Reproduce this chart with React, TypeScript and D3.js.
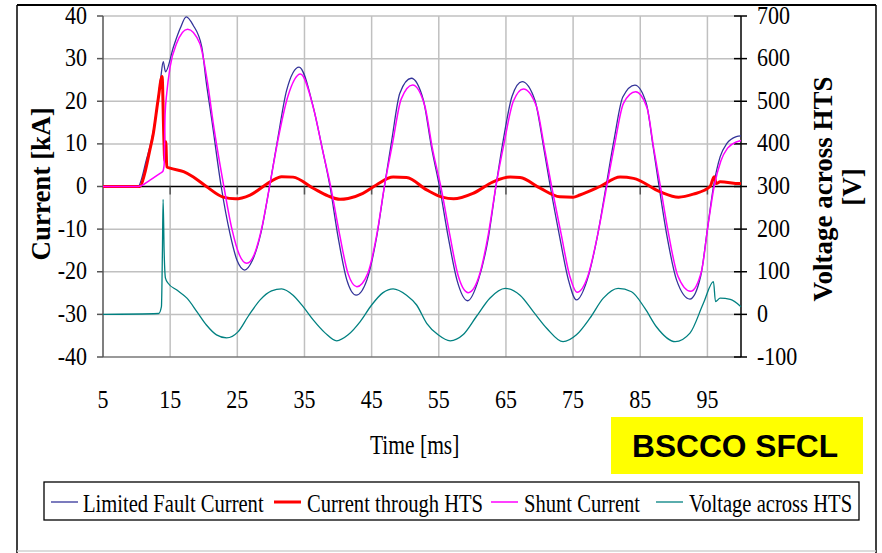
import React from "react";
import * as d3 from "d3";

// time [ms] / value pairs
const faultCurrent: [number, number][] = [
  [5, 0], [10.2, 0], [11.5, 6.5], [12.5, 13], [13.2, 20.5], [13.6, 25.5], [13.97, 29.3], [14.3, 26.9],
  [15.5, 32.8], [16.5, 37.1], [17.4, 39.8], [18.4, 37.9], [19.7, 32.8], [20.4, 24.2], [21.2, 15.6],
  [22.6, 0], [23.9, -11], [25.0, -17.5], [26.1, -19.6], [27.2, -17.5], [28.5, -11], [29.8, 0],
  [31.0, 11], [32.35, 22.6], [34.2, 28.0], [36.3, 18.7], [37.6, 9.3], [38.8, 0], [40.0, -11.8],
  [41.3, -21.9], [42.7, -25.5], [44.3, -21.9], [45.75, -11.8], [46.9, 0], [48.0, 10.9], [49.2, 21.9],
  [50.9, 25.4], [52.7, 20.3], [53.9, 9.3], [55.1, 0], [56.4, -11.8], [57.7, -21.9], [59.3, -26.8],
  [60.9, -21.9], [62.4, -11.8], [63.5, 0], [64.6, 10.9], [65.9, 21.1], [67.4, 24.6], [69.3, 20.3],
  [70.6, 9.3], [71.6, 0], [73.0, -11.8], [74.3, -21.9], [75.5, -26.6], [77.1, -21.9], [78.6, -11.8],
  [79.9, 0], [81.1, 11], [82.4, 21], [84.2, 23.8], [85.9, 19.5], [86.9, 9.5], [87.8, 0], [89.0, -11.8],
  [90.4, -21.9], [92.4, -26.4], [94.0, -21], [95.0, -10], [95.9, 0], [96.9, 7.0], [97.9, 10.1],
  [99.3, 11.7], [100, 11.9],
];

const htsCurrent: [number, number][] = [
  [5, 0], [10.5, 0], [11.2, 3], [11.9, 8], [12.5, 12.5], [13.2, 20.3], [13.8, 25.8], [14.05, 12], [14.2, 6],
  [14.35, 10.5], [14.5, 4.6], [15, 4.3], [17, 3.5], [18.4, 2.3], [20.4, 0], [22.9, -2.5], [24.7, -2.9],
  [26.9, -2.0], [29.9, 1.1], [31.6, 2.3], [33.3, 2.2], [36.3, -0.4], [38.5, -2.2], [40.3, -3.0],
  [41.5, -2.8], [43.7, -1.6], [45.7, 0.35], [48.2, 2.2], [50.2, 2.1], [53.2, -0.8], [55.5, -2.5],
  [57.2, -2.9], [60.1, -1.6], [63.1, 1.1], [65.6, 2.2], [67.1, 2.1], [70.1, -0.4], [73, -2.4],
  [75, -2.5], [76, -2.0], [79, 0], [82, 2.2], [84, 1.9], [87.9, -1.2], [90.7, -2.5], [92.9, -1.8],
  [95.4, 0], [96.0, 2.3], [96.3, 0.7], [96.9, 1.1], [99.8, 0.7], [100, 0.7],
];

const shuntCurrent: [number, number][] = [
  [5, 0], [10.2, 0], [12, 1.5], [13.5, 3.1], [13.9, 3.5], [14.1, 5], [14.25, 17], [14.5, 22],
  [15.0, 28.1], [15.97, 33.6], [17.6, 36.9], [19.4, 33.6], [20.6, 24], [21.4, 15], [23.0, 0],
  [24.2, -10], [25.3, -16], [26.4, -18], [27.5, -16], [28.6, -10], [29.8, 0], [31.0, 10.5],
  [32.5, 21], [34.4, 26.4], [36.4, 18], [37.7, 8.5], [38.9, 0], [40.2, -11], [41.5, -20.5],
  [42.8, -23.5], [44.4, -20.5], [45.8, -11], [46.9, 0], [48.1, 10], [49.4, 20.5], [51.1, 23.8],
  [52.9, 19], [54.1, 8.5], [55.3, 0], [56.6, -11], [57.9, -21], [59.4, -24.9], [61, -21], [62.4, -11],
  [63.5, 0], [64.7, 10], [66.1, 20], [67.6, 22.9], [69.5, 19], [70.8, 8.5], [71.8, 0], [73.2, -11],
  [74.5, -21], [75.6, -24.8], [77.2, -21], [78.7, -11], [80, 0], [81.2, 10], [82.5, 19.5],
  [84.3, 22.2], [86, 18.5], [87, 9], [88, 0], [89.2, -11], [90.6, -21], [92.5, -24.6], [94.1, -20],
  [95.1, -9], [96, 0], [97, 6], [98, 9], [99.4, 10.5], [100, 10.8],
];

const htsVoltage: [number, number][] = [
  [5, 0], [13.3, 2], [13.7, 18], [13.85, 150], [13.95, 270], [14.1, 150], [14.3, 85], [14.7, 73],
  [16.0, 57], [17.5, 38], [19.0, 6], [20.4, -25], [21.9, -48], [23.4, -55], [25.1, -41], [26.6, -5],
  [28.4, 34], [30.1, 55], [31.6, 60], [33.3, 45], [34.8, 18], [36.3, -13], [38.1, -44], [39.8, -62],
  [41.5, -48], [43.3, -17], [45.0, 22], [46.7, 51], [48.2, 60], [50.2, 45], [51.7, 22], [53.2, -21],
  [54.9, -48], [56.7, -62], [58.6, -48], [60.6, -5], [62.6, 38], [64.9, 61], [67.1, 45], [69.1, 6],
  [71.1, -33], [73.5, -64], [75.5, -48], [77.5, -9], [79.5, 38], [81.7, 61], [83.7, 53], [85.7, 14],
  [87.4, -29], [90.2, -64], [92.4, -44], [94.4, 26], [95.9, 77], [96.2, 30], [96.9, 38], [98.4, 35],
  [100, 18],
];

const xTicks = [5, 15, 25, 35, 45, 55, 65, 75, 85, 95];
const currentTicks = [-40, -30, -20, -10, 0, 10, 20, 30, 40];
const voltageTicks = [-100, 0, 100, 200, 300, 400, 500, 600, 700];

const series = [
  { name: "Limited Fault Current", data: faultCurrent, color: "#333399", width: 1.3, right: false },
  { name: "Current through HTS", data: htsCurrent, color: "#ff0000", width: 3, right: false },
  { name: "Shunt Current", data: shuntCurrent, color: "#ff00ff", width: 1.5, right: false },
  { name: "Voltage across HTS", data: htsVoltage, color: "#008080", width: 1.3, right: true },
];

const legendPos = [
  { x0: 51, tx: 83 },
  { x0: 274, tx: 307 },
  { x0: 491, tx: 524 },
  { x0: 656, tx: 689 },
];

export default function App() {
  const left = 103, right = 741, top = 16, bottom = 357;
  const x = d3.scaleLinear().domain([5, 100]).range([left, right]);
  const yL = d3.scaleLinear().domain([-40, 40]).range([bottom, top]);
  const yR = d3.scaleLinear().domain([-100, 700]).range([bottom, top]);

  const serif = "'Liberation Serif', 'Times New Roman', serif";

  return (
    <div style={{ position: "absolute", left: 0, top: 0 }}>
      <svg width={882} height={553} style={{ display: "block", background: "#fff" }}>
        {/* outer frame */}
        <line x1={17} y1={5} x2={876} y2={5} stroke="#000" strokeWidth={2} />
        <line x1={17} y1={5} x2={17} y2={553} stroke="#000" strokeWidth={1.5} />
        <line x1={876} y1={5} x2={876} y2={553} stroke="#000" strokeWidth={1.5} />
        <line x1={17} y1={551} x2={876} y2={551} stroke="#d0d0d0" strokeWidth={1.5} />

        {/* grid */}
        {xTicks.slice(1).map((t) => (
          <line key={"gx" + t} x1={x(t)} x2={x(t)} y1={top} y2={bottom} stroke="#c0c0c0" strokeWidth={1.5} />
        ))}
        {currentTicks.filter((t) => t !== 0 && t !== -40).map((t) => (
          <line key={"gy" + t} x1={left} x2={right} y1={yL(t)} y2={yL(t)} stroke="#c0c0c0" strokeWidth={1.5} />
        ))}

        {/* axes */}
        <line x1={left} x2={right} y1={bottom} y2={bottom} stroke="#777" strokeWidth={1.5} />
        <line x1={left} x2={left} y1={top} y2={bottom} stroke="#555" strokeWidth={1.5} />
        {currentTicks.map((t) => (
          <line key={"lt" + t} x1={left - 6} x2={left} y1={yL(t)} y2={yL(t)} stroke="#555" strokeWidth={1.5} />
        ))}
        <line x1={left} x2={right} y1={yL(0)} y2={yL(0)} stroke="#000" strokeWidth={1.3} />
        {xTicks.slice(1).map((t) => (
          <line key={"xt" + t} x1={x(t)} x2={x(t)} y1={yL(0)} y2={yL(0) + 8} stroke="#555" strokeWidth={1.5} />
        ))}
        <line x1={right} x2={right} y1={top} y2={bottom} stroke="#000" strokeWidth={1.5} />
        {voltageTicks.map((t) => (
          <line key={"rt" + t} x1={right - 7} x2={right + 6} y1={yR(t)} y2={yR(t)} stroke="#000" strokeWidth={1.5} />
        ))}

        {/* series */}
        {series.map((s) => {
          const yS = s.right ? yR : yL;
          const path = d3
            .line<[number, number]>()
            .x((d) => x(d[0]))
            .y((d) => yS(d[1]))
            .curve(d3.curveMonotoneX)(s.data);
          return (
            <path key={s.name} d={path || ""} fill="none" stroke={s.color} strokeWidth={s.width} strokeLinejoin="round" />
          );
        })}

        {/* tick labels */}
        <g fontFamily={serif} fontSize={22} fill="#000">
          {currentTicks.map((t) => (
            <text key={"ll" + t} transform={`translate(87,${yL(t) + 7.5}) scale(1,1.1)`} textAnchor="end">{t}</text>
          ))}
          {voltageTicks.map((t) => (
            <text key={"rl" + t} transform={`translate(757,${yR(t) + 7.5}) scale(1,1.1)`}>{t}</text>
          ))}
          {xTicks.map((t) => (
            <text key={"bl" + t} transform={`translate(${x(t)},408) scale(1,1.1)`} textAnchor="middle">{t}</text>
          ))}
        </g>

        {/* axis titles */}
        <text
          transform="translate(50,184) rotate(-90)"
          textAnchor="middle"
          fontFamily={serif}
          fontWeight="bold"
          fontSize={27}
        >
          Current [kA]
        </text>
        <text
          transform="translate(832,189) rotate(-90)"
          textAnchor="middle"
          fontFamily={serif}
          fontWeight="bold"
          fontSize={27}
        >
          Voltage across HTS
        </text>
        <text
          transform="translate(861,187) rotate(-90)"
          textAnchor="middle"
          fontFamily={serif}
          fontWeight="bold"
          fontSize={27}
        >
          [V]
        </text>
        <text transform="translate(370,454) scale(1,1.25)" fontFamily={serif} fontSize={21.5}>
          Time [ms]
        </text>

        {/* label box */}
        <rect x={611} y={417} width={252} height={57} fill="#ffff00" />
        <text
          x={632}
          y={457}
          fontFamily="'Liberation Sans', Arial, sans-serif"
          fontWeight="bold"
          fontSize={31}
          textLength={206}
          lengthAdjust="spacingAndGlyphs"
        >
          BSCCO SFCL
        </text>

        {/* legend */}
        <rect x={44} y={482} width={815} height={38} fill="#fff" stroke="#000" strokeWidth={1.3} />
        {series.map((s, i) => (
          <g key={"lg" + s.name}>
            <line
              x1={legendPos[i].x0}
              x2={legendPos[i].x0 + 27}
              y1={502}
              y2={502}
              stroke={s.color}
              strokeWidth={s.width}
            />
            <text
              transform={`translate(${legendPos[i].tx},512) scale(1,1.25)`}
              fontFamily={serif}
              fontSize={20.6}
            >
              {s.name}
            </text>
          </g>
        ))}
      </svg>
    </div>
  );
}
